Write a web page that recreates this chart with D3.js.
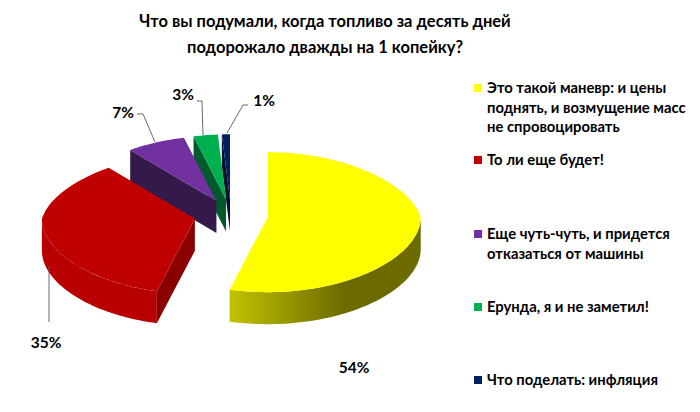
<!DOCTYPE html>
<html><head><meta charset="utf-8">
<script src="https://cdn.jsdelivr.net/npm/d3@7"></script>
<style>body{margin:0;background:#fff}svg{display:block}</style>
</head><body>
<svg id="c" width="700" height="412"></svg>
<script>
const titleLines = ["Что вы подумали, когда топливо за десять дней", "подорожало дважды на 1 копейку?"];
const categories = [
  "Это такой маневр: и цены поднять, и возмущение масс не спровоцировать",
  "То ли еще будет!",
  "Еще чуть-чуть, и придется отказаться от машины",
  "Ерунда, я и не заметил!",
  "Что поделать: инфляция"
];
const legendLines = [
  ["Это такой маневр: и цены", "поднять, и возмущение масс", "не спровоцировать"],
  ["То ли еще будет!"],
  ["Еще чуть-чуть, и придется", "отказаться от машины"],
  ["Ерунда, я и не заметил!"],
  ["Что поделать: инфляция"]
];
const values = [54, 35, 7, 3, 1];
const valueLabels = ["54%", "35%", "7%", "3%", "1%"];
const topColors = ["#ffff00", "#c00000", "#7030a0", "#00b050", "#002060"];
const sideDark = ["#6b6b00", "#8a0000", "#341a4a", "#005a2c", "#001030"];
const sideLight = ["#c8c800", "#b80000", "#4a2866", "#00783a", "#001a48"];

const svg = d3.select("#c");
const font = "Lato, 'Open Sans', sans-serif";

// title
svg.selectAll("text.title").data(titleLines).join("text")
  .attr("class", "title")
  .attr("x", 325).attr("y", (d, i) => 27 + i * 26)
  .attr("text-anchor", "middle")
  .attr("font-family", font).attr("font-weight", "bold").attr("font-size", 16.5)
  .attr("fill", "#000").text(d => d);

// pie geometry (simple perspective: back narrower & flatter)
const cx = 231, cy = 215, rx = 153, depth = 32, explode = 37;
const ry = a => 70 - 5 * Math.cos(a);
const proj = (a, r) => [r * Math.sin(a) * (1 - 0.15 * Math.max(0, Math.cos(a))), -Math.cos(a) * r / rx * ry(a)];

const pie = d3.pie().sort(null).value(d => d);
const arcs = pie(values).map((p, i) => {
  const mid = (p.startAngle + p.endAngle) / 2;
  const [ox, oy] = proj(mid, explode);
  return { ...p, i, ox: cx + ox, oy: cy + oy };
});

function arcPts(s, a0, a1, dy) {
  const n = Math.max(2, Math.ceil(Math.abs(a1 - a0) / 0.03));
  const pts = [];
  for (let k = 0; k <= n; k++) {
    const a = a0 + (a1 - a0) * k / n;
    const [x, y] = proj(a, rx);
    pts.push([s.ox + x, s.oy + y + dy]);
  }
  return pts;
}
const line = d3.line();

const defs = svg.append("defs");
arcs.forEach(s => {
  const g = defs.append("linearGradient").attr("id", "g" + s.i)
    .attr("gradientUnits", "userSpaceOnUse")
    .attr("x1", s.ox - rx).attr("x2", s.ox + rx).attr("y1", 0).attr("y2", 0);
  g.append("stop").attr("offset", 0).attr("stop-color", sideLight[s.i]);
  g.append("stop").attr("offset", 0.35).attr("stop-color", sideLight[s.i]);
  g.append("stop").attr("offset", 0.75).attr("stop-color", sideDark[s.i]);
  g.append("stop").attr("offset", 1).attr("stop-color", sideDark[s.i]);
});

// draw order: back slices first, then red, then yellow
const order = [4, 3, 2, 1, 0];
const layer = svg.append("g");
order.forEach(idx => {
  const s = arcs[idx];
  const g = layer.append("g");
  const a0 = s.startAngle, a1 = s.endAngle;
  const face = (a) => {
    const [x, y] = proj(a, rx);
    return [[s.ox, s.oy], [s.ox + x, s.oy + y], [s.ox + x, s.oy + y + depth], [s.ox, s.oy + depth]];
  };
  if (Math.sin(a0) <= 0.001) {
    g.append("path").attr("d", line(face(a0)) + "Z").attr("fill", sideDark[s.i]);
  }
  if (Math.sin(a1) > 0.001) {
    g.append("path").attr("d", line(face(a1)) + "Z").attr("fill", sideDark[s.i]);
  }
  const w0 = Math.max(a0, Math.PI / 2), w1 = Math.min(a1, 3 * Math.PI / 2);
  if (w1 > w0) {
    const top = arcPts(s, w0, w1, 0);
    const bot = arcPts(s, w1, w0, depth);
    g.append("path").attr("d", line(top.concat(bot)) + "Z").attr("fill", `url(#g${s.i})`);
  }
  const tp = [[s.ox, s.oy]].concat(arcPts(s, a0, a1, 0));
  g.append("path").attr("d", line(tp) + "Z").attr("fill", topColors[s.i]);
});

// leader lines
const leaders = [
  null,
  [[49, 322], [49, 266]],
  [[137, 114], [143, 114], [155, 142]],
  [[197, 101], [202, 101], [203, 135]],
  [[248, 105], [243, 105], [227, 133]]
];
svg.selectAll("path.leader").data(leaders.filter(d => d)).join("path")
  .attr("class", "leader").attr("d", d => line(d))
  .attr("fill", "none").attr("stroke", "#595959").attr("stroke-width", 0.9);

const labelPos = [[354, 368], [46, 343], [123, 113], [183, 95], [264, 101]];
svg.selectAll("text.val").data(valueLabels).join("text")
  .attr("class", "val")
  .attr("x", (d, i) => labelPos[i][0]).attr("y", (d, i) => labelPos[i][1])
  .attr("dy", "0.35em").attr("text-anchor", "middle")
  .attr("font-family", font).attr("font-weight", "bold").attr("font-size", 15.5)
  .attr("fill", "#000").text(d => d);

// legend
const legendY = [88, 160, 234, 307, 380];
const lg = svg.append("g");
legendLines.forEach((lines, i) => {
  lg.append("rect").attr("x", 474).attr("y", legendY[i] - 4).attr("width", 8).attr("height", 8)
    .attr("fill", topColors[i]);
  lines.forEach((t, j) => {
    lg.append("text").attr("x", 487).attr("y", legendY[i] + j * 19.5).attr("dy", "0.35em")
      .attr("font-family", font).attr("font-weight", "bold").attr("font-size", 14.8)
      .attr("fill", "#000").text(t);
  });
});
</script>
</body></html>
